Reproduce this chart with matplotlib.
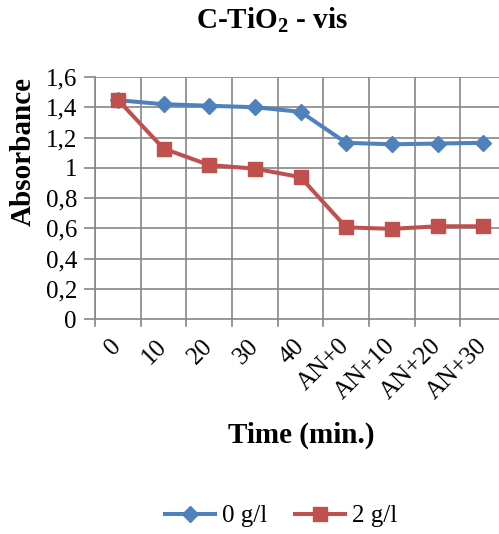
import matplotlib.pyplot as plt
import numpy as np

# data
categories = ['0', '10', '20', '30', '40', 'AN+0', 'AN+10', 'AN+20', 'AN+30']
conc_0 = [1.447, 1.42, 1.41, 1.40, 1.37, 1.165, 1.155, 1.16, 1.165]
conc_2 = [1.45, 1.127, 1.018, 0.994, 0.938, 0.606, 0.596, 0.613, 0.613]
y_ticks = [0, 0.2, 0.4, 0.6, 0.8, 1.0, 1.2, 1.4, 1.6]
y_tick_labels = ['0', '0,2', '0,4', '0,6', '0,8', '1', '1,2', '1,4', '1,6']

plt.rcParams['font.family'] = ['Liberation Serif', 'DejaVu Serif']
plt.rcParams['mathtext.fontset'] = 'custom'
plt.rcParams['mathtext.rm'] = 'Liberation Serif'
plt.rcParams['mathtext.bf'] = 'Liberation Serif:bold'

W, H = 499, 534
fig = plt.figure(figsize=(W / 100, H / 100), dpi=100)
# axes runs past the right edge of the figure, as in the reference
left, right, top, bottom = 95, 506, 77, 319
ax = fig.add_axes([left / W, 1 - bottom / H, (right - left) / W, (bottom - top) / H])

x = np.arange(len(categories))
blue = '#4F81BD'
red = '#C0504D'
ax.plot(x, conc_0, color=blue, lw=2.9, marker='D', ms=8, label='0 g/l', zorder=3)
ax.plot(x, conc_2, color=red, lw=2.9, marker='s', ms=10, label='2 g/l', zorder=4)

ax.set_xlim(-0.5, len(categories) - 0.5)
ax.set_ylim(0, 1.6)
ax.set_yticks(y_ticks)
ax.set_yticklabels(y_tick_labels, fontsize=18)
ax.set_xticks(x)
ax.set_xticklabels(categories, fontsize=18, rotation=45, ha='right', va='center',
                   rotation_mode='anchor')
ax.tick_params(axis='x', length=0, pad=17)
ax.tick_params(axis='y', length=8, color='#868686', width=1.2, pad=5)

# gridlines: horizontal at y ticks, vertical at category boundaries
grid_c = '#868686'
for yv in y_ticks[1:]:
    ax.axhline(yv, color=grid_c, lw=1.2, zorder=1)
for b in np.arange(-0.5, len(categories), 1.0):
    ax.axvline(b, color=grid_c, lw=1.2, zorder=1)
    ax.plot([b, b], [0, -0.045], color=grid_c, lw=1.2, clip_on=False, zorder=1)

for s in ['top', 'right']:
    ax.spines[s].set_visible(False)
for s in ['left', 'bottom']:
    ax.spines[s].set_color(grid_c)
    ax.spines[s].set_linewidth(1.2)

fig.text(23 / W, 1 - 152 / H, 'Absorbance', fontsize=21, fontweight='bold',
         rotation=90, ha='center', va='center')
fig.text(301 / W, 1 - 435 / H, 'Time (min.)', fontsize=21, fontweight='bold',
         ha='center', va='center')
fig.text(272 / W, 1 - 20 / H, r'C-TiO$_\mathbf{2}$ - vis', fontsize=21, fontweight='bold',
         ha='center', va='center')

fig.legend(loc='center', bbox_to_anchor=(281 / W, 1 - 516 / H), ncol=2, frameon=False,
           fontsize=18, handlelength=2.0, columnspacing=1.08, handletextpad=0.28)

fig.savefig('out.png', dpi=100)
